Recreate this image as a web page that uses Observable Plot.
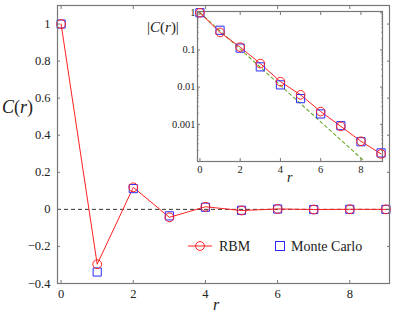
<!DOCTYPE html>
<html>
<head>
<meta charset="utf-8">
<script src="https://cdn.jsdelivr.net/npm/d3@7"></script>
<script src="https://cdn.jsdelivr.net/npm/@observablehq/plot@0.6"></script>
<style>
  body { margin: 0; background: white; }
  #wrap { position: relative; width: 393px; height: 319px; font-family: 'Liberation Serif'; color: #222; }
  #wrap svg { position: absolute; }
  .lbl { position: absolute; white-space: nowrap; line-height: 1; }
  .it { font-style: italic; }
</style>
</head>
<body>
<div id="wrap"></div>
<script>
// ---- data ----
const rValues = [0, 1, 2, 3, 4, 5, 6, 7, 8, 9];
const rbmValues = [1, -0.296, 0.119, -0.043, 0.014, -0.0062, 0.0022, -0.00088, 0.00035, -0.00016];
const mcValues  = [1, -0.338, 0.112, -0.035, 0.0115, -0.0049, 0.0019, -0.00092, 0.00034, -0.00017];
const fitR = [0, 8.1];
const fitC = [1, 1.1e-4];
const xTicks = [0, 2, 4, 6, 8];
const yTicks = [-0.4, -0.2, 0, 0.2, 0.4, 0.6, 0.8, 1];
const logTicks = [1, 0.1, 0.01, 0.001];
const legendLabels = ["RBM", "Monte Carlo"];

const rows = rValues.map((r, i) => ({r, rbm: rbmValues[i], mc: mcValues[i], absRbm: Math.abs(rbmValues[i]), absMc: Math.abs(mcValues[i])}));
const fitRows = fitR.map((r, i) => ({r, c: fitC[i]}));
const minorTicks = [];
for (let k = -4; k < 0; k++) for (let m = 2; m <= 9; m++) minorTicks.push(m * Math.pow(10, k));

const FONT = "Liberation Serif";
const RED = "#ff2020", BLUE = "#2a2aff", FRAME = "#777";
const fmt = d3.format("~g");

const wrap = document.getElementById("wrap");

const main = Plot.plot({
  width: 393, height: 319,
  marginLeft: 57, marginRight: 4, marginTop: 5, marginBottom: 36,
  x: {domain: [-0.1, 9.1]},
  y: {domain: [-0.4, 1.1]},
  style: {fontFamily: FONT, fontSize: "12.5px", background: "white", color: "#222"},
  marks: [
    Plot.ruleY([0], {stroke: "#333", strokeDasharray: "4,3", strokeWidth: 1}),
    Plot.axisX({ticks: xTicks, tickSize: -3, tickPadding: 9, label: null, stroke: FRAME, tickFormat: fmt}),
    Plot.axisX({anchor: "top", ticks: xTicks, tickSize: -3, label: null, stroke: FRAME, tickFormat: () => ""}),
    Plot.axisY({ticks: yTicks, tickSize: -3, tickPadding: 10, label: null, stroke: FRAME, tickFormat: fmt}),
    Plot.axisY({anchor: "right", ticks: yTicks, tickSize: -3, label: null, stroke: FRAME, tickFormat: () => ""}),
    Plot.line(rows, {x: "r", y: "rbm", stroke: RED, strokeWidth: 1}),
    Plot.dot(rows, {x: "r", y: "mc", symbol: "square", r: 4.6, stroke: BLUE, strokeWidth: 1}),
    Plot.dot(rows, {x: "r", y: "rbm", r: 4.4, stroke: RED, strokeWidth: 1}),
    Plot.frame({stroke: FRAME, strokeWidth: 1.2})
  ]
});
main.style.left = "0px"; main.style.top = "0px";
wrap.appendChild(main);

const inset = Plot.plot({
  width: 253, height: 190,
  marginLeft: 57, marginTop: 11, marginRight: 11, marginBottom: 29,
  x: {domain: [-0.12, 9.07]},
  y: {type: "log", domain: [1e-4, 1.08]},
  style: {fontFamily: FONT, fontSize: "10.5px", background: "transparent", color: "#222", overflow: "visible"},
  marks: [
    Plot.frame({fill: "white", stroke: FRAME, strokeWidth: 1.2}),
    Plot.axisX({ticks: xTicks, tickSize: -3, tickPadding: 7, label: null, stroke: FRAME, tickFormat: fmt}),
    Plot.axisX({anchor: "top", ticks: xTicks, tickSize: -3, label: null, stroke: FRAME, tickFormat: () => ""}),
    Plot.axisY({ticks: logTicks, tickSize: -3, tickPadding: 5, label: null, stroke: FRAME, tickFormat: d => String(d)}),
    Plot.axisY({anchor: "right", ticks: logTicks, tickSize: -3, label: null, stroke: FRAME, tickFormat: () => ""}),
    Plot.axisY({ticks: minorTicks, tickSize: -1.6, label: null, stroke: FRAME, tickFormat: () => ""}),
    Plot.axisY({anchor: "right", ticks: minorTicks, tickSize: -1.6, label: null, stroke: FRAME, tickFormat: () => ""}),
    Plot.line(fitRows, {x: "r", y: "c", stroke: "#6aaa2a", strokeDasharray: "3,3", strokeWidth: 1.1}),
    Plot.line(rows, {x: "r", y: "absRbm", stroke: RED, strokeWidth: 1}),
    Plot.dot(rows, {x: "r", y: "absMc", symbol: "square", r: 4.6, stroke: BLUE, strokeWidth: 1}),
    Plot.dot(rows, {x: "r", y: "absRbm", r: 4.3, stroke: RED, strokeWidth: 1})
  ]
});
inset.style.left = "140px"; inset.style.top = "0px";
wrap.appendChild(inset);

function addLabel(html, left, top, size) {
  const d = document.createElement("div");
  d.className = "lbl";
  d.innerHTML = html;
  d.style.left = left + "px"; d.style.top = top + "px"; d.style.fontSize = size + "px";
  wrap.appendChild(d);
}
addLabel('<span class="it">C</span>(<span class="it">r</span>)', 2, 98, 18);
addLabel('|<span class="it">C</span>(<span class="it">r</span>)|', 147, 20, 15);
addLabel('<span class="it">r</span>', 213, 297, 16);
addLabel('<span class="it">r</span>', 287, 171, 14);

// legend
const leg = document.createElementNS("http://www.w3.org/2000/svg", "svg");
leg.setAttribute("width", 393); leg.setAttribute("height", 319);
leg.style.left = "0px"; leg.style.top = "0px"; leg.style.pointerEvents = "none";
leg.innerHTML = `
  <line x1="188" y1="246" x2="212" y2="246" stroke="${RED}" stroke-width="1"/>
  <circle cx="200" cy="246" r="4.4" fill="none" stroke="${RED}" stroke-width="1"/>
  <text x="219" y="250.5" font-family="${FONT}" font-size="14" fill="#222">${legendLabels[0]}</text>
  <rect x="275.5" y="241.5" width="9" height="9" fill="none" stroke="${BLUE}" stroke-width="1"/>
  <text x="291" y="250.5" font-family="${FONT}" font-size="14" fill="#222">${legendLabels[1]}</text>`;
wrap.appendChild(leg);
</script>
</body>
</html>
